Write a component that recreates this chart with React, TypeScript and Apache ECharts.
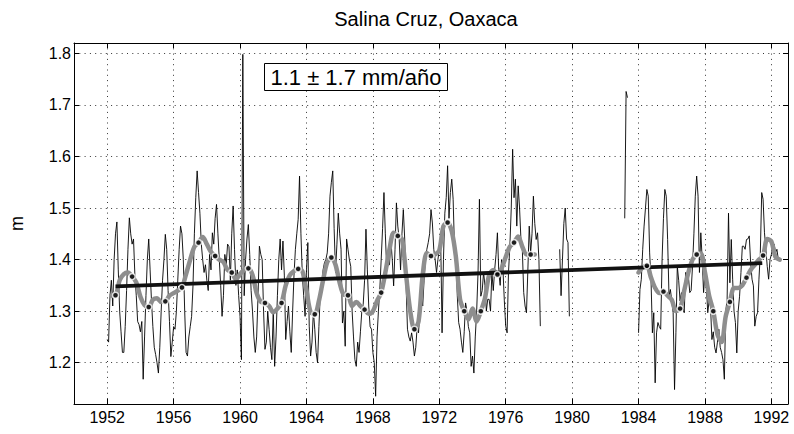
import React, { useEffect, useRef } from "react";
import * as echarts from "echarts";

// ---------- DATA ----------
const START_YEAR = 1952; // first monthly value = Jan 1952

// monthly mean sea level (m), 12 values per year, null = no data
const monthly1950s = [
  1.245, 1.24, 1.33, 1.36, 1.31, 1.40, 1.45, 1.473, 1.38, 1.30, 1.26, 1.22, // 1952
  1.22, 1.27, 1.34, 1.42, 1.481, 1.45, 1.43, 1.44, 1.37, 1.33, 1.28, 1.274, // 1953
  1.26, 1.28, 1.168, 1.25, 1.33, 1.40, 1.44, 1.38, 1.32, 1.27, 1.23, 1.216, // 1954
  1.20, 1.18, 1.23, 1.30, 1.36, 1.40, 1.449, 1.42, 1.34, 1.28, 1.212, 1.24, // 1955
  1.27, 1.265, 1.30, 1.36, 1.42, 1.465, 1.45, 1.40, 1.30, 1.22, 1.213, 1.25, // 1956
  1.27, 1.29, 1.35, 1.45, 1.52, 1.572, 1.53, 1.49, 1.43, 1.40, 1.375, 1.39, // 1957
  1.36, 1.34, 1.41, 1.38, 1.452, 1.43, 1.48, 1.507, 1.45, 1.40, 1.35, 1.29, // 1958
  1.33, 1.41, 1.39, 1.43, 1.425, 1.36, 1.45, 1.504, 1.42, 1.35, 1.38, 1.33, // 1959
];
const monthly1960s = [
  1.29, 1.206, 1.798, 1.33, 1.40, 1.44, 1.468, 1.41, 1.34, 1.30, 1.25, 1.22, // 1960
  1.25, 1.33, 1.426, 1.41, 1.40, 1.30, 1.226, 1.24, 1.30, 1.265, 1.23, 1.206, // 1961
  1.30, 1.193, 1.25, 1.33, 1.40, 1.44, 1.38, 1.436, 1.37, 1.245, 1.28, 1.31, // 1962
  1.26, 1.22, 1.30, 1.37, 1.42, 1.45, 1.478, 1.562, 1.45, 1.37, 1.33, 1.29, // 1963
  1.38, 1.433, 1.271, 1.213, 1.24, 1.30, 1.265, 1.22, 1.20, 1.27, 1.336, 1.35, // 1964
  1.38, 1.394, 1.40, 1.413, 1.45, 1.523, 1.55, 1.572, 1.46, 1.375, 1.43, 1.49, // 1965
  1.45, 1.42, 1.277, 1.30, 1.232, 1.44, 1.42, 1.40, 1.387, 1.30, 1.25, 1.206, // 1966
  1.193, 1.24, 1.22, 1.26, 1.30, 1.313, 1.36, 1.459, 1.38, 1.31, 1.27, 1.265, // 1967
  1.22, 1.20, 1.135, 1.25, 1.30, 1.342, 1.40, 1.46, 1.53, 1.45, 1.381, 1.39, // 1968
  1.39, 1.439, 1.40, 1.349, 1.42, 1.51, 1.465, 1.44, 1.38, 1.45, 1.497, 1.44, // 1969
];
const monthly1970s = [
  1.35, 1.265, 1.25, 1.242, 1.258, 1.24, 1.213, 1.23, 1.27, 1.258, 1.30, 1.34, // 1970
  1.31, 1.36, 1.40, 1.42, 1.433, 1.45, 1.497, 1.471, 1.42, 1.40, 1.375, 1.40, // 1971
  1.42, 1.44, 1.258, 1.40, 1.49, 1.52, 1.582, 1.48, 1.53, 1.556, 1.517, 1.42, // 1972
  1.407, 1.33, 1.278, 1.265, 1.24, 1.22, 1.26, 1.316, 1.30, 1.27, 1.258, 1.193, // 1973
  1.213, 1.18, 1.25, 1.30, 1.375, 1.517, 1.329, 1.34, 1.375, 1.35, 1.30, 1.323, // 1974
  1.323, 1.30, 1.375, 1.34, 1.38, 1.41, 1.452, 1.375, 1.35, 1.40, 1.381, 1.32, // 1975
  1.271, 1.258, 1.375, 1.426, 1.50, 1.614, 1.52, 1.556, 1.465, 1.543, 1.50, 1.439, // 1976
  1.42, 1.336, 1.31, 1.297, 1.38, 1.465, 1.413, 1.45, 1.523, 1.47, 1.439, 1.452, // 1977
  1.40, 1.271, null, null, null, null, null, null, null, null, null, null, // 1978
  null, null, null, 1.42, 1.33, 1.40, 1.47, 1.50, 1.44, 1.433, 1.29, null, // 1979
];
const monthly1980s = [
  null, null, null, null, null, null, null, null, null, null, null, null, // 1980
  null, null, null, null, null, null, null, null, null, null, null, null, // 1981
  null, null, null, null, null, null, null, null, null, null, null, null, // 1982
  null, null, 1.48, 1.726, 1.714, null, null, null, null, null, null, null, // 1983
  1.258, 1.342, 1.362, 1.42, 1.465, 1.50, 1.536, 1.523, 1.413, 1.362, 1.258, 1.297, // 1984
  1.161, 1.258, 1.278, 1.27, 1.265, 1.40, 1.48, 1.536, 1.523, 1.439, 1.329, 1.342, // 1985
  1.32, 1.297, 1.148, 1.258, 1.387, 1.36, 1.32, 1.336, 1.31, 1.297, 1.375, 1.37, // 1986
  1.368, 1.336, 1.34, 1.387, 1.45, 1.523, 1.562, 1.523, 1.375, 1.452, 1.40, 1.336, // 1987
  1.375, 1.35, 1.297, 1.32, 1.31, 1.245, 1.26, 1.23, 1.219, 1.24, 1.265, 1.23, // 1988
  1.22, 1.206, 1.168, 1.30, 1.323, 1.49, 1.355, 1.439, 1.362, 1.30, 1.278, 1.219, // 1989
];
const monthly1990s = [
  1.30, 1.329, 1.375, 1.426, 1.426, 1.42, 1.439, 1.44, 1.446, 1.394, 1.362, 1.349, // 1990
  1.271, 1.29, 1.297, 1.362, 1.413, 1.53, 1.517, 1.452, 1.42, 1.387, 1.362, 1.40, // 1991
  1.41, 1.426, 1.43, 1.413, 1.42, 1.40, // 1992
];

// smoothed series (grey), quarterly samples
const SMOOTH1_START = 1952.25;
const smooth1 = [
  1.33, 1.331, 1.36, 1.372, 1.375, 1.367, 1.356, 1.328, 1.312, 1.308, 1.322, 1.325,
  1.318, 1.319, 1.33, 1.335, 1.34, 1.346, 1.372, 1.40, 1.425, 1.433, 1.444, 1.43,
  1.415, 1.407, 1.40, 1.395, 1.38, 1.375, 1.362, 1.372, 1.38, 1.383, 1.37, 1.335,
  1.318, 1.316, 1.31, 1.298, 1.305, 1.316, 1.35, 1.37, 1.378, 1.382, 1.378, 1.34,
  1.298, 1.294, 1.32, 1.36, 1.395, 1.404, 1.39, 1.355, 1.332, 1.331, 1.31, 1.318,
  1.31, 1.303, 1.295, 1.30, 1.32, 1.336, 1.375, 1.42, 1.452, 1.446, 1.44, 1.37,
  1.30, 1.265, 1.28, 1.37, 1.413, 1.407, 1.41, 1.418, 1.465, 1.472, 1.455, 1.405,
  1.323, 1.30, 1.284, 1.305, 1.28, 1.30, 1.325, 1.37, 1.38, 1.371, 1.383, 1.405,
  1.425, 1.433, 1.445, 1.425, 1.41, 1.41, 1.41,
];
const SMOOTH2_START = 1984.0;
const smooth2 = [
  1.375, 1.385, 1.388, 1.365, 1.345, 1.335, 1.338, 1.33, 1.322, 1.30, 1.305, 1.34,
  1.375, 1.40, 1.41, 1.412, 1.375, 1.33, 1.30, 1.255, 1.24, 1.29, 1.318, 1.345,
  1.345, 1.35, 1.365, 1.38, 1.39, 1.40, 1.408, 1.44, 1.435, 1.405, 1.40,
];

// annual means (dots), plotted at mid-year
const ANNUAL1_START = 1952;
const annual1 = [
  1.331, 1.367, 1.308, 1.319, 1.346, 1.433, 1.407, 1.375, 1.383, 1.316, 1.316, 1.382, 1.294,
  1.404, 1.331, 1.303, 1.336, 1.446, 1.265, 1.407, 1.472, 1.30, 1.30, 1.371, 1.433, 1.41,
];
const ANNUAL2_START = 1984;
const annual2 = [1.388, 1.338, 1.305, 1.41, 1.30, 1.318, 1.365, 1.408];

// linear trend
const trendYears = [1952.5, 1991.45];
const trendValues = [1.348, 1.393];

const xTicks = [1952, 1956, 1960, 1964, 1968, 1972, 1976, 1980, 1984, 1988, 1992];
const yTicks = [1.2, 1.3, 1.4, 1.5, 1.6, 1.7, 1.8];

const TITLE = "Salina Cruz, Oaxaca";
const RATE_TEXT = "1.1 \u00b1 1.7 mm/a\u00f1o";
const Y_NAME = "m";

// ---------- CHART ----------
const FONT = "'Liberation Sans', Arial, Helvetica, sans-serif";

export default function App() {
  const ref = useRef<HTMLDivElement>(null);

  useEffect(() => {
    if (!ref.current) return;
    const chart = echarts.init(ref.current, undefined, { renderer: "svg" });

    const monthly = [...monthly1950s, ...monthly1960s, ...monthly1970s, ...monthly1980s, ...monthly1990s];
    const monthlyData = monthly.map((v, i) => [START_YEAR + i / 12, v == null ? "-" : v]);

    const smoothData: any[] = smooth1.map((v, i) => [SMOOTH1_START + i * 0.25, v]);
    smoothData.push([1980, "-"]);
    smooth2.forEach((v, i) => smoothData.push([SMOOTH2_START + i * 0.25, v]));

    const dotData = [
      ...annual1.map((v, i) => [ANNUAL1_START + i + 0.5, v]),
      ...annual2.map((v, i) => [ANNUAL2_START + i + 0.5, v]),
    ];

    const trendData = trendYears.map((y, i) => [y, trendValues[i]]);

    const gridLine = { show: true, lineStyle: { color: "#000", width: 0.8, type: [1, 4.3] as any } };
    const axisLine = { show: true, onZero: false, lineStyle: { color: "#000", width: 1 } };

    const option: any = {
      animation: false,
      backgroundColor: "#fff",
      grid: { left: 65, top: 43, width: 723, height: 361, containLabel: false },
      xAxis: [
        {
          type: "value",
          min: 1950,
          max: 1993,
          position: "bottom",
          axisLine,
          axisTick: { show: true, inside: true, length: 5, customValues: xTicks, lineStyle: { color: "#000" } },
          axisLabel: {
            show: true,
            customValues: xTicks,
            fontSize: 16,
            color: "#000",
            fontFamily: FONT,
            margin: 5,
            formatter: (v: number) => String(v),
          },
          splitLine: gridLine,
        },
        {
          type: "value",
          min: 1950,
          max: 1993,
          position: "top",
          axisLine,
          axisTick: { show: true, inside: true, length: 5, customValues: xTicks, lineStyle: { color: "#000" } },
          axisLabel: { show: false },
          splitLine: { show: false },
        },
      ],
      yAxis: [
        {
          type: "value",
          min: 1.12,
          max: 1.82,
          position: "left",
          axisLine,
          axisTick: { show: true, inside: true, length: 5, customValues: yTicks, lineStyle: { color: "#000" } },
          axisLabel: {
            show: true,
            customValues: yTicks,
            fontSize: 16,
            color: "#000",
            fontFamily: FONT,
            margin: 3,
            formatter: (v: number) => v.toFixed(1),
          },
          splitLine: gridLine,
          name: Y_NAME,
          nameLocation: "middle",
          nameGap: 48,
          nameRotate: 90,
          nameTextStyle: { fontSize: 18, color: "#000", fontFamily: FONT },
        },
        {
          type: "value",
          min: 1.12,
          max: 1.82,
          position: "right",
          axisLine,
          axisTick: { show: true, inside: true, length: 5, customValues: yTicks, lineStyle: { color: "#000" } },
          axisLabel: { show: false },
          splitLine: { show: false },
        },
      ],
      series: [
        {
          name: "monthly",
          type: "line",
          data: monthlyData,
          showSymbol: false,
          connectNulls: false,
          lineStyle: { color: "#000", width: 0.9 },
          z: 2,
        },
        {
          name: "smoothed",
          type: "line",
          data: smoothData,
          showSymbol: false,
          connectNulls: false,
          smooth: 0.3,
          lineStyle: { color: "#8e8e8e", width: 4.5, cap: "round", join: "round" },
          z: 3,
        },
        {
          name: "trend",
          type: "line",
          data: trendData,
          showSymbol: false,
          lineStyle: { color: "#111", width: 3.8 },
          z: 4,
        },
        {
          name: "annual",
          type: "scatter",
          data: dotData,
          symbol: "circle",
          symbolSize: 6,
          itemStyle: { color: "#000", borderColor: "#fff", borderWidth: 1.5 },
          z: 5,
        },
      ],
      graphic: [
        {
          type: "text",
          z: 10,
          style: {
            text: TITLE,
            x: 426,
            y: 19,
            textAlign: "center",
            textVerticalAlign: "middle",
            font: `20px ${FONT}`,
            fill: "#000",
          },
        },
        {
          type: "rect",
          z: 10,
          shape: { x: 264.5, y: 63.5, width: 183, height: 27 },
          style: { fill: "#fff", stroke: "#000", lineWidth: 1 },
        },
        {
          type: "text",
          z: 11,
          style: {
            text: RATE_TEXT,
            x: 356,
            y: 77.5,
            textAlign: "center",
            textVerticalAlign: "middle",
            font: `22px ${FONT}`,
            fill: "#000",
          },
        },
      ],
    };

    chart.setOption(option);
    return () => chart.dispose();
  }, []);

  return (
    <div
      ref={ref}
      style={{ position: "fixed", left: 0, top: 0, width: 794, height: 434, background: "#fff" }}
    />
  );
}
